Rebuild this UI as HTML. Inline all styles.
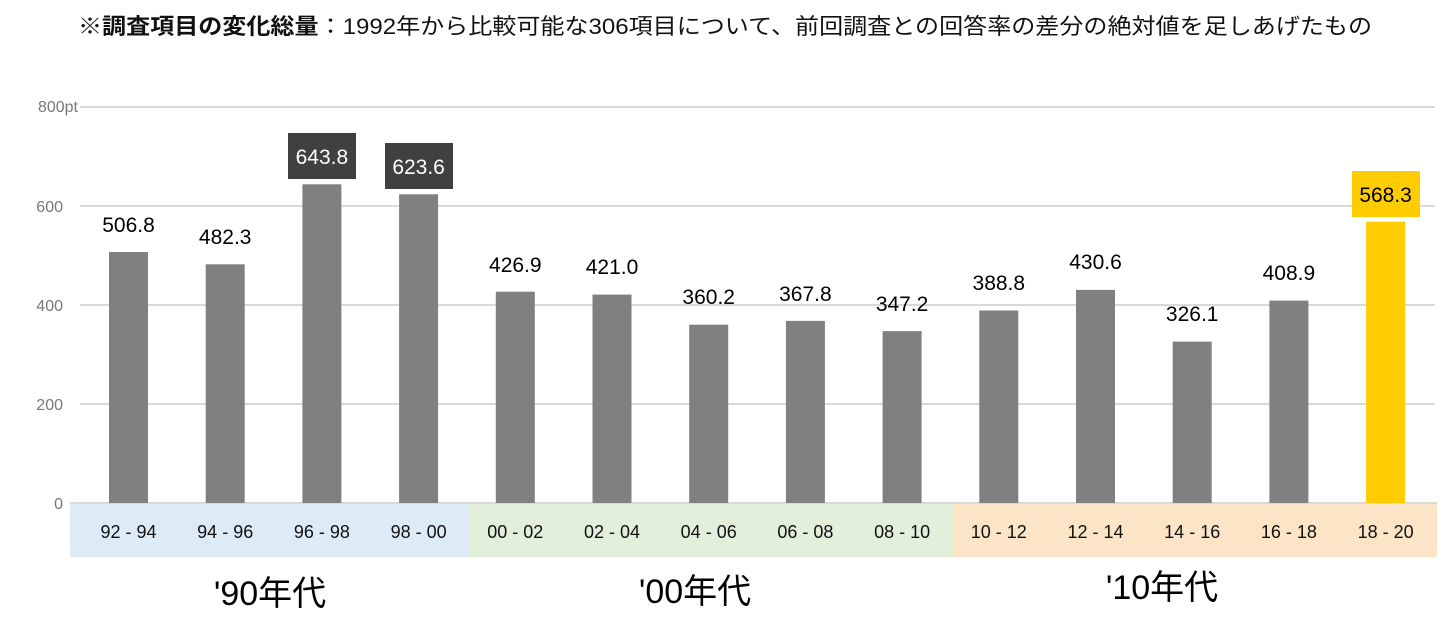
<!DOCTYPE html>
<html><head><meta charset="utf-8"><style>
body{margin:0;background:#fff;width:1453px;height:639px;overflow:hidden}
</style></head><body>
<svg width="1453" height="639" xmlns="http://www.w3.org/2000/svg" font-family="Liberation Sans, Noto Sans CJK JP, sans-serif">
<text x="78" y="34" font-size="22" fill="#111" textLength="1294" lengthAdjust="spacingAndGlyphs"><tspan font-weight="bold">※調査項目の変化総量</tspan>：1992年から比較可能な306項目について、前回調査との回答率の差分の絶対値を足しあげたもの</text>
<g stroke="#d9d9d9" stroke-width="2">
<line x1="80" x2="1435" y1="107" y2="107"/><line x1="80" x2="1435" y1="206" y2="206"/>
<line x1="80" x2="1435" y1="305" y2="305"/><line x1="80" x2="1435" y1="404" y2="404"/>
</g>
<g font-size="16" fill="#777" text-anchor="end">
<text x="78" y="112">800pt</text><text x="63" y="212">600</text><text x="63" y="311">400</text><text x="63" y="410">200</text><text x="63" y="509">0</text>
</g>
<rect x="70" y="502" width="400" height="55" fill="#ddebf7"/>
<rect x="470" y="502" width="483" height="55" fill="#e2efda"/>
<rect x="953" y="502" width="484" height="55" fill="#fce4c6"/>
<line x1="70" x2="1437" y1="503" y2="503" stroke="#d9d9d9" stroke-width="2"/>
<g fill="#808080">
<rect x="109" y="252" width="39" height="251"/>
<rect x="205.7" y="264.3" width="39" height="238.7"/>
<rect x="302.4" y="184.3" width="39" height="318.7"/>
<rect x="399.1" y="194.3" width="39" height="308.7"/>
<rect x="495.8" y="291.7" width="39" height="211.3"/>
<rect x="592.5" y="294.6" width="39" height="208.4"/>
<rect x="689.2" y="324.7" width="39" height="178.3"/>
<rect x="785.9" y="320.9" width="39" height="182.1"/>
<rect x="882.6" y="331.1" width="39" height="171.9"/>
<rect x="979.3" y="310.5" width="39" height="192.5"/>
<rect x="1076" y="289.9" width="39" height="213.1"/>
<rect x="1172.7" y="341.6" width="39" height="161.4"/>
<rect x="1269.4" y="300.6" width="39" height="202.4"/>
<rect x="1366.1" y="221.7" width="39" height="281.3" fill="#ffcc00"/>
</g>
<rect x="288" y="133" width="68" height="46" fill="#404040"/>
<rect x="385" y="143" width="68" height="46" fill="#404040"/>
<rect x="1352" y="171" width="68" height="46" fill="#ffcc00"/>
<g font-size="21" text-anchor="middle" fill="#000">
<text x="128.5" y="232">506.8</text>
<text x="225.2" y="244">482.3</text>
<text x="321.9" y="164" fill="#fff">643.8</text>
<text x="418.6" y="174" fill="#fff">623.6</text>
<text x="515.3" y="272">426.9</text>
<text x="612" y="274">421.0</text>
<text x="708.7" y="304">360.2</text>
<text x="805.4" y="301">367.8</text>
<text x="902.1" y="311">347.2</text>
<text x="998.8" y="290">388.8</text>
<text x="1095.5" y="269">430.6</text>
<text x="1192.2" y="321">326.1</text>
<text x="1288.9" y="280">408.9</text>
<text x="1385.6" y="202">568.3</text>
</g>
<g font-size="18" text-anchor="middle" fill="#111">
<text x="128.5" y="538">92 - 94</text><text x="225.2" y="538">94 - 96</text><text x="321.9" y="538">96 - 98</text><text x="418.6" y="538">98 - 00</text>
<text x="515.3" y="538">00 - 02</text><text x="612" y="538">02 - 04</text><text x="708.7" y="538">04 - 06</text><text x="805.4" y="538">06 - 08</text><text x="902.1" y="538">08 - 10</text>
<text x="998.8" y="538">10 - 12</text><text x="1095.5" y="538">12 - 14</text><text x="1192.2" y="538">14 - 16</text><text x="1288.9" y="538">16 - 18</text><text x="1385.6" y="538">18 - 20</text>
</g>
<g font-size="34" fill="#000" text-anchor="middle">
<text x="270" y="605">'90年代</text><text x="695" y="603">'00年代</text><text x="1162" y="599">'10年代</text>
</g>
</svg>
</body></html>
